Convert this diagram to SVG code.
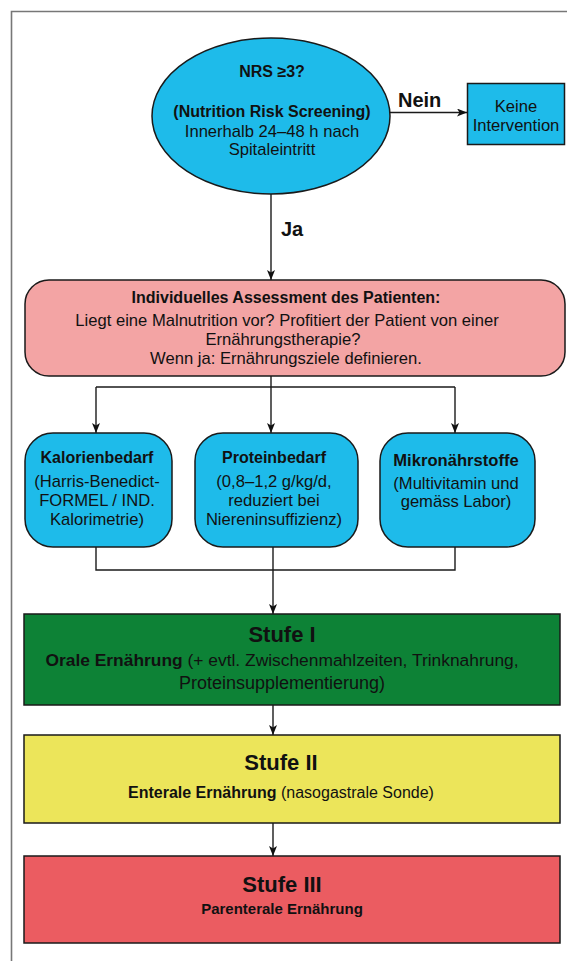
<svg xmlns="http://www.w3.org/2000/svg" width="567" height="961" viewBox="0 0 567 961">
<defs>
<marker id="ah" viewBox="0 0 10 8" refX="10" refY="4" markerWidth="10" markerHeight="8" markerUnits="userSpaceOnUse" orient="auto">
<path d="M0,0 L10,4 L0,8 L2.5,4 z" fill="#111"/>
</marker>
<style>
.t{font-family:"Liberation Sans",Arial,sans-serif;font-size:16.6px;fill:#111;text-anchor:middle}
.b{font-weight:bold;font-size:16px}
.big{font-size:22px;font-weight:bold}
.lbl{font-family:"Liberation Sans",Arial,sans-serif;font-size:20px;font-weight:bold;fill:#111}
.node{stroke:#1a1a1a;stroke-width:1.5}
.blue{fill:#1ebbea}
.c{fill:none;stroke:#1a1a1a;stroke-width:1.4}
</style>
</defs>
<rect width="567" height="961" fill="#fff"/>
<path d="M11.5,961 V11.5 H567" fill="none" stroke="#777" stroke-width="1.6"/>

<g id="connectors">
<line class="c" x1="390" y1="112.5" x2="467" y2="112.5" marker-end="url(#ah)"/>
<line class="c" x1="271" y1="194" x2="271" y2="280" marker-end="url(#ah)"/>
<line class="c" x1="271" y1="376" x2="271" y2="387"/>
<line class="c" x1="96" y1="387" x2="455" y2="387"/>
<line class="c" x1="96" y1="387" x2="96" y2="433" marker-end="url(#ah)"/>
<line class="c" x1="271" y1="387" x2="271" y2="433" marker-end="url(#ah)"/>
<line class="c" x1="455" y1="387" x2="455" y2="433" marker-end="url(#ah)"/>
<polyline class="c" points="96,547 96,570 455,570 455,547"/>
<line class="c" x1="273" y1="547" x2="273" y2="614" marker-end="url(#ah)"/>
<line class="c" x1="273" y1="705" x2="273" y2="735" marker-end="url(#ah)"/>
<line class="c" x1="273" y1="823" x2="273" y2="856" marker-end="url(#ah)"/>
<text class="lbl" x="398" y="107">Nein</text>
<text class="lbl" x="281" y="236">Ja</text>
</g>

<g id="nrs">
<ellipse class="node blue" cx="271" cy="116" rx="119" ry="78"/>
<text class="t b" x="272" y="77">NRS ≥3?</text>
<text class="t b" x="272" y="117">(Nutrition Risk Screening)</text>
<text class="t" x="272" y="136.5">Innerhalb 24–48 h nach</text>
<text class="t" x="272" y="155">Spitaleintritt</text>
</g>

<g id="keine">
<rect class="node blue" x="467.5" y="83.5" width="97" height="61"/>
<text class="t" x="516" y="112">Keine</text>
<text class="t" x="516" y="131">Intervention</text>
</g>

<g id="assessment">
<rect class="node" x="25" y="280" width="540" height="96" rx="24" fill="#f3a4a4"/>
<text class="t b" x="286" y="303">Individuelles Assessment des Patienten:</text>
<text class="t" x="287" y="325.5">Liegt eine Malnutrition vor? Profitiert der Patient von einer</text>
<text class="t" x="283" y="344.5">Ernährungstherapie?</text>
<text class="t" x="286" y="364">Wenn ja: Ernährungsziele definieren.</text>
</g>

<g id="kalorien">
<rect class="node blue" x="25" y="433" width="147" height="114" rx="28"/>
<text class="t b" x="97" y="463">Kalorienbedarf</text>
<text class="t" x="97" y="487">(Harris-Benedict-</text>
<text class="t" x="97" y="506">FORMEL / IND.</text>
<text class="t" x="97" y="524.5">Kalorimetrie)</text>
</g>

<g id="protein">
<rect class="node blue" x="195" y="433" width="163" height="114" rx="28"/>
<text class="t b" x="274" y="463">Proteinbedarf</text>
<text class="t" x="274" y="487">(0,8–1,2 g/kg/d,</text>
<text class="t" x="274" y="506">reduziert bei</text>
<text class="t" x="274" y="524.5">Niereninsuffizienz)</text>
</g>

<g id="mikro">
<rect class="node blue" x="380" y="433" width="155" height="114" rx="28"/>
<text class="t b" x="456" y="465.5" style="font-size:16.6px">Mikronährstoffe</text>
<text class="t" x="456" y="488.5">(Multivitamin und</text>
<text class="t" x="456" y="506.5">gemäss Labor)</text>
</g>

<g id="stufe1">
<rect class="node" x="24" y="614" width="536" height="91" fill="#0d8236"/>
<text class="t big" x="282" y="641.5">Stufe I</text>
<text class="t" x="282" y="665.5" style="font-size:17.4px"><tspan style="font-weight:bold">Orale Ernährung</tspan> (+ evtl. Zwischenmahlzeiten, Trinknahrung,</text>
<text class="t" x="282" y="688.5" style="font-size:18px">Proteinsupplementierung)</text>
</g>

<g id="stufe2">
<rect class="node" x="24" y="735" width="536" height="88" fill="#ece55a"/>
<text class="t big" x="281" y="770">Stufe II</text>
<text class="t" x="281" y="797.5" style="font-size:16px"><tspan style="font-weight:bold">Enterale Ernährung</tspan> (nasogastrale Sonde)</text>
</g>

<g id="stufe3">
<rect class="node" x="24" y="856" width="536" height="87" fill="#eb5c61"/>
<text class="t big" x="282" y="892">Stufe III</text>
<text class="t b" x="282" y="914" style="font-size:15px">Parenterale Ernährung</text>
</g>
</svg>
